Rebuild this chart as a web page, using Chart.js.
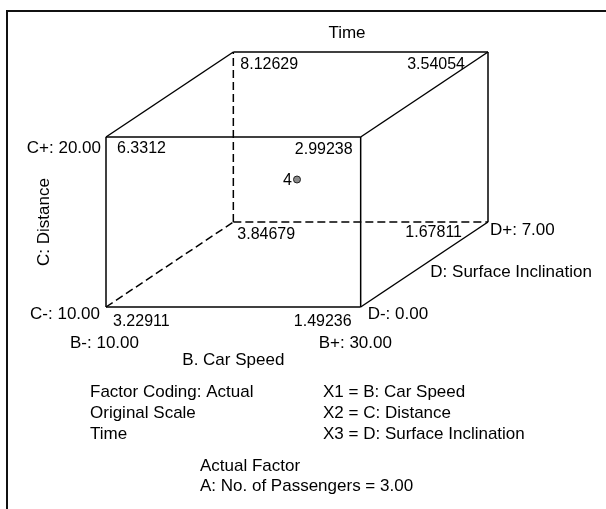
<!DOCTYPE html>
<html>
<head>
<meta charset="utf-8">
<title>Cube plot - Time</title>
<script src="https://cdn.jsdelivr.net/npm/chart.js@4/dist/chart.umd.min.js"></script>
<style>
    html, body { margin: 0; padding: 0; background: #fff; overflow: hidden; }
    #wrap { position: relative; width: 606px; height: 509px; }
</style>
</head>
<body>
<div id="wrap"><canvas id="cubeChart"></canvas></div>
<script>
// factor levels (actual units)
const speedLevels = [10, 30];        // B: Car Speed
const distanceLevels = [10, 20];     // C: Distance
const inclinationLevels = [0, 7];    // D: Surface Inclination

// cube corners and predicted Time
const cornerSpeed       = [10, 30, 10, 30, 10, 30, 10, 30];
const cornerDistance    = [10, 10, 20, 20, 10, 10, 20, 20];
const cornerInclination = [0, 0, 0, 0, 7, 7, 7, 7];
const cornerTime        = [3.22911, 1.49236, 6.3312, 2.99238, 3.84679, 1.67811, 8.12629, 3.54054];

// center point
const centerSpeed = [20];
const centerDistance = [15];
const centerInclination = [3.5];
const centerRuns = [4];

const passengers = 3.00;

const FONT = "'Liberation Sans', Arial, sans-serif";
const DEPTH = 0.5; // oblique depth of the D axis

function coded(v, levels) {
    const mid = (levels[0] + levels[1]) / 2;
    const half = (levels[1] - levels[0]) / 2;
    return (v - mid) / half;
}

function project(b, c, d) {
    const dd = coded(d, inclinationLevels);
    return {
        x: coded(b, speedLevels) + DEPTH * dd,
        y: coded(c, distanceLevels) + DEPTH * dd
    };
}

const corners = cornerTime.map((t, i) => project(cornerSpeed[i], cornerDistance[i], cornerInclination[i]));

// the corner behind the cube (B-, C-, D+) has hidden (dashed) edges
const hiddenIndex = cornerTime.findIndex((t, i) =>
    cornerSpeed[i] === speedLevels[0] && cornerDistance[i] === distanceLevels[0] && cornerInclination[i] === inclinationLevels[1]);

const edgeSets = [];
for (let i = 0; i < corners.length; i++) {
    for (let j = i + 1; j < corners.length; j++) {
        let diff = 0;
        if (cornerSpeed[i] !== cornerSpeed[j]) diff++;
        if (cornerDistance[i] !== cornerDistance[j]) diff++;
        if (cornerInclination[i] !== cornerInclination[j]) diff++;
        if (diff !== 1) continue;
        const hidden = (i === hiddenIndex || j === hiddenIndex);
        edgeSets.push({
            data: [corners[i], corners[j]],
            showLine: true,
            pointRadius: 0,
            borderColor: '#000',
            borderWidth: 1.5,
            borderDash: hidden ? [8, 4] : [],
            clip: false
        });
    }
}

const centerSet = {
    data: centerSpeed.map((s, i) => project(s, centerDistance[i], centerInclination[i])),
    pointRadius: 3.5,
    pointBackgroundColor: '#8a8a8a',
    pointBorderColor: '#222',
    pointBorderWidth: 1,
    clip: false
};

// label placement next to each corner: [dx, dy, align]
const valueOffsets = [
    [7, 19, 'left'], [-9, 19, 'right'], [11, 16, 'left'], [-8, 17, 'right'],
    [4, 17, 'left'], [-26, 15, 'right'], [7, 17, 'left'], [-23, 17, 'right']
];

const framePlugin = {
    id: 'frame',
    beforeDraw(chart) {
        const ctx = chart.ctx;
        ctx.save();
        ctx.strokeStyle = '#111';
        ctx.lineWidth = 2;
        ctx.strokeRect(7, 11, 700, 600);
        ctx.restore();
    }
};

const labelPlugin = {
    id: 'cubeLabels',
    afterDatasetsDraw(chart) {
        const ctx = chart.ctx;
        const xs = chart.scales.x, ys = chart.scales.y;
        const px = p => ({ x: xs.getPixelForValue(p.x), y: ys.getPixelForValue(p.y) });
        const text = (s, x, y, align, size) => {
            ctx.font = (size || 17) + 'px ' + FONT;
            ctx.textAlign = align || 'left';
            ctx.fillText(s, x, y);
        };
        ctx.save();
        ctx.fillStyle = '#000';
        ctx.textBaseline = 'alphabetic';

        // corner values
        corners.forEach((c, i) => {
            const p = px(c);
            const o = valueOffsets[i];
            text(String(cornerTime[i]), p.x + o[0], p.y + o[1], o[2], 16);
        });

        // center point replicate count
        centerSet.data.forEach((c, i) => {
            const p = px(c);
            text(String(centerRuns[i]), p.x - 5, p.y + 5, 'right', 16);
        });

        const fbl = px(project(speedLevels[0], distanceLevels[0], inclinationLevels[0]));
        const fbr = px(project(speedLevels[1], distanceLevels[0], inclinationLevels[0]));
        const ftl = px(project(speedLevels[0], distanceLevels[1], inclinationLevels[0]));
        const bbr = px(project(speedLevels[1], distanceLevels[0], inclinationLevels[1]));

        // factor level labels
        text('C+: ' + distanceLevels[1].toFixed(2), ftl.x - 5, ftl.y + 16, 'right');
        text('C-: ' + distanceLevels[0].toFixed(2), fbl.x - 6, fbl.y + 12, 'right');
        text('B-: ' + speedLevels[0].toFixed(2), fbl.x - 36, fbl.y + 41, 'left');
        text('B+: ' + speedLevels[1].toFixed(2), fbr.x - 42, fbr.y + 41, 'left');
        text('D-: ' + inclinationLevels[0].toFixed(2), fbr.x + 7, fbr.y + 12, 'left');
        text('D+: ' + inclinationLevels[1].toFixed(2), bbr.x + 2, bbr.y + 13, 'left');

        // axis names
        text('B. Car Speed', (fbl.x + fbr.x) / 2, fbl.y + 58, 'center');
        text('D: Surface Inclination', (fbr.x + bbr.x) / 2 + 6, (fbr.y + bbr.y) / 2 + 12, 'left');
        ctx.save();
        ctx.translate(49, (ftl.y + fbl.y) / 2);
        ctx.rotate(-Math.PI / 2);
        text('C: Distance', 0, 0, 'center');
        ctx.restore();

        // title and notes
        text('Time', 347, 38, 'center');
        text('Factor Coding: Actual', 90, 397);
        text('Original Scale', 90, 418);
        text('Time', 90, 439);
        text('X1 = B: Car Speed', 323, 397);
        text('X2 = C: Distance', 323, 418);
        text('X3 = D: Surface Inclination', 323, 439);
        text('Actual Factor', 200, 471);
        text('A: No. of Passengers = ' + passengers.toFixed(2), 200, 491);
        ctx.restore();
    }
};

new Chart(document.getElementById('cubeChart').getContext('2d'), {
    type: 'scatter',
    data: { datasets: edgeSets.concat([centerSet]) },
    options: {
        responsive: true,
        maintainAspectRatio: false,
        animation: false,
        layout: { padding: { left: 106, right: 118, top: 52, bottom: 202 } },
        scales: {
            x: { type: 'linear', min: -1.5, max: 1.5, display: false },
            y: { type: 'linear', min: -1.5, max: 1.5, display: false }
        },
        plugins: {
            legend: { display: false },
            tooltip: { enabled: false }
        }
    },
    plugins: [framePlugin, labelPlugin]
});
</script>
</body>
</html>
